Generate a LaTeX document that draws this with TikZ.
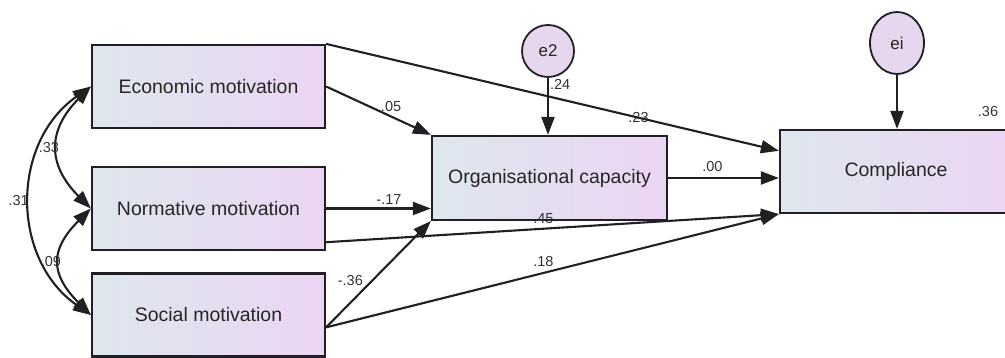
\documentclass[tikz,border=0pt]{standalone}
\usepackage{fontspec}
\setmainfont{Liberation Sans}
\usetikzlibrary{positioning,arrows.meta,shapes.geometric}
\definecolor{boxleft}{RGB}{222,231,238}
\definecolor{boxright}{RGB}{236,213,243}
\definecolor{errfill}{RGB}{230,214,238}
\definecolor{edge}{RGB}{32,32,36}

\begin{document}
\begin{tikzpicture}[x=1pt, y=1pt,
    >={Triangle[length=18pt,width=13pt]},
    var/.style={draw=edge, line width=2.2pt, left color=boxleft, right color=boxright,
      minimum width=233pt, minimum height=83pt, inner sep=0pt, text=black!85,
      font=\fontsize{19.5}{23}\selectfont},
    err/.style={draw=edge, line width=1.8pt, fill=errfill, circle, minimum size=52pt,
      inner sep=0pt, text=black!85, font=\fontsize{17}{20}\selectfont},
    link/.style={draw=edge, line width=2.1pt},
    coef/.style={font=\fontsize{14.5}{16}\selectfont, text=black!80, inner sep=1pt}]
    \useasboundingbox (0,0) rectangle (1005,358);

    \node [var] (econ) at (208.5,271.5) {Economic motivation};
    \node [var] (norm) at (208.5,149.5) {Normative motivation};
    \node [var] (soc) at (208.5,43) {Social motivation};

    \node [var, minimum width=235pt, minimum height=84pt] (org) at (549.5,180) {Organisational capacity};
    \node [var, minimum width=232pt] (comp) at (896,186.5) {Compliance};

    \node [err] (e2) at (548,307) {e2};
    \node [err, ellipse, minimum width=54pt, minimum height=62pt] (ei) at (897,315) {ei};

    % covariances
    \draw [link, <->] (econ.west) to [out=215, in=145, looseness=1.1] node [coef, midway, left] {.31} (soc.west);
    \draw [link, <->] (econ.west) to [out=225, in=135, looseness=1.3] node [coef, midway, left=-3pt] {.33} (norm.west);
    \draw [link, <->] (norm.west) to [out=225, in=135, looseness=1.4] node [coef, midway, left=-3pt] {.09} (soc.west);

    % paths
    \draw [link, ->] (econ.north east) -- (comp.170) node [coef, pos=0.69] {.23};
    \draw [link, ->] (econ.east) -- (org.north west) node [coef, pos=0.62, above=3pt] {.05};
    \draw [link, ->] (norm.east) -- (norm.east -| org.west) node [coef, pos=0.6, above=2pt] {-.17};
    \draw [link, ->] (norm.-16.5) -- (comp.south west) node [coef, pos=0.48, above=3pt] {.45};
    \draw [link, ->] (soc.-6) -- (org.south west) node [coef, pos=0.37, above left] {-.36};
    \draw [link, ->] (soc.-6) -- (comp.south west) node [coef, pos=0.48, above=4pt] {.18};
    \draw [link, ->] (org.east) -- (org.east -| comp.west) node [coef, pos=0.4, above=4pt] {.00};

    \draw [link, ->] (e2) -- (e2 |- org.north) node [coef, pos=0.12, right] {.24};
    \draw [link, ->] (ei) -- (ei |- comp.north);

    \node [coef] (r2comp) at (988,246) {.36};
\end{tikzpicture}
\end{document}
